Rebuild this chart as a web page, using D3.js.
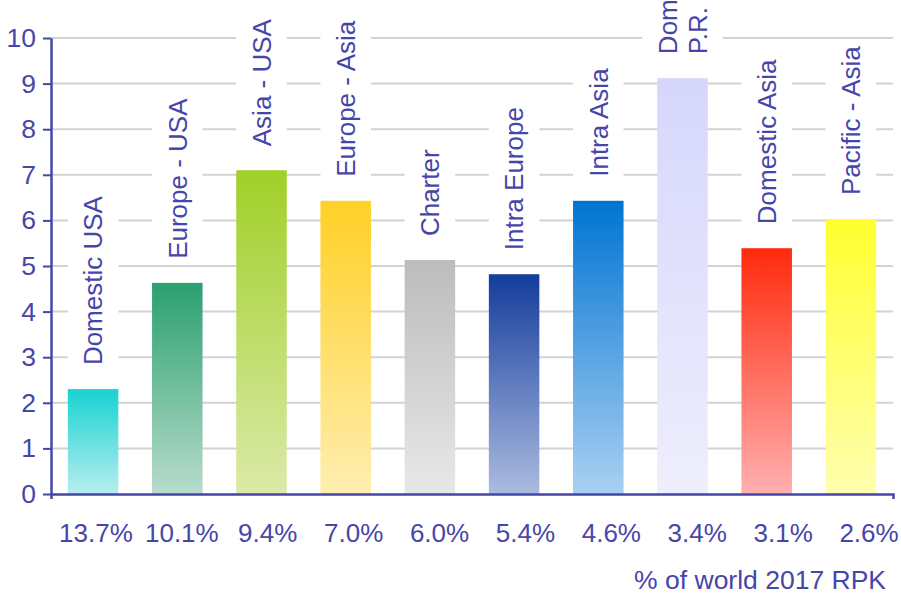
<!DOCTYPE html>
<html>
<head>
<meta charset="utf-8">
<script src="https://cdn.jsdelivr.net/npm/d3@7"></script>
<style>
  html, body { margin: 0; padding: 0; background: #fff; }
  svg { display: block; font-family: "Liberation Sans", Arial, sans-serif; }
</style>
</head>
<body>
<svg id="chart" width="901" height="595"></svg>
<script>
// Market segments (line breaks mark multi-line labels)
const categories = [
  "Domestic USA", "Europe - USA", "Asia - USA", "Europe - Asia", "Charter",
  "Intra Europe", "Intra Asia", "Domestic\nP.R. China", "Domestic Asia", "Pacific - Asia"
];
// Bar heights
const values = [2.3, 4.63, 7.1, 6.43, 5.13, 4.82, 6.43, 9.12, 5.39, 6.03];
// Share of world 2017 RPK, shown under each bar
const shares = ["13.7%", "10.1%", "9.4%", "7.0%", "6.0%", "5.4%", "4.6%", "3.4%", "3.1%", "2.6%"];
// Gradient colours per bar: top and bottom
const topColors = ["#18d2d2", "#2aa070", "#a0cf28", "#ffd026", "#bcbcbc",
                   "#143c9c", "#0074d2", "#d6d6fc", "#ff2a0c", "#ffff30"];
const bottomColors = ["#b8eeee", "#b8dccc", "#dbeaa8", "#ffeeb0", "#e8e8e8",
                      "#acbce0", "#aad0f2", "#eeeefc", "#ffb0b0", "#ffffb0"];
const yTicks = [0, 1, 2, 3, 4, 5, 6, 7, 8, 9, 10];
const axisTitle = "% of world 2017 RPK";

const ink = "#4646aa";
const svg = d3.select("#chart");

const x = d3.scaleBand().domain(categories).range([51, 893]).paddingInner(0.4).paddingOuter(0.2);
const y = d3.scaleLinear().domain([0, 10]).range([494, 38]);
const xShare = d3.scaleBand().domain(shares).range([53, 912]);

// Gradients
const defs = svg.append("defs");
categories.forEach((c, i) => {
  const g = defs.append("linearGradient").attr("id", "grad" + i)
    .attr("x1", 0).attr("y1", 0).attr("x2", 0).attr("y2", 1);
  g.append("stop").attr("offset", "0%").attr("stop-color", topColors[i]);
  g.append("stop").attr("offset", "100%").attr("stop-color", bottomColors[i]);
});

// Gridlines
svg.append("g").selectAll("line").data(yTicks.filter(d => d > 0)).join("line")
  .attr("x1", 51).attr("x2", 893)
  .attr("y1", d => y(d)).attr("y2", d => y(d))
  .attr("stroke", "#d2d2d2").attr("stroke-width", 2);

// Bars
svg.append("g").selectAll("rect").data(values).join("rect")
  .attr("x", (d, i) => x(categories[i]))
  .attr("width", x.bandwidth())
  .attr("y", d => y(d))
  .attr("height", d => y(0) - y(d))
  .attr("fill", (d, i) => `url(#grad${i})`);

// Rotated segment labels with white backing boxes
const fontSize = 26, lineGap = 30, capH = fontSize * 0.716, gap = 24;
categories.forEach((c, i) => {
  const lines = c.split("\n");
  const cx = x(c) + x.bandwidth() / 2;
  const g = svg.append("g")
    .attr("transform", `translate(${cx},${y(values[i]) - gap}) rotate(-90)`);
  const bg = g.append("rect").attr("fill", "#fff");
  const t = g.append("text")
    .attr("fill", ink).attr("font-size", fontSize).attr("text-anchor", "start");
  lines.forEach((ln, k) => {
    t.append("tspan").attr("x", 0)
      .attr("y", -(lines.length - 1) * lineGap / 2 + k * lineGap + capH / 2)
      .text(ln);
  });
  const len = t.node().getBBox().width;
  const half = ((lines.length - 1) * lineGap + capH) / 2 + 16;
  bg.attr("x", -4).attr("width", len + 8).attr("y", -half).attr("height", half * 2);
});

// Y axis
const yAxis = svg.append("g").attr("transform", "translate(51,0)")
  .call(d3.axisLeft(y).tickValues(yTicks).tickSize(8).tickSizeOuter(0).tickPadding(7));
yAxis.select(".domain").attr("stroke", ink).attr("stroke-width", 2.5);
yAxis.selectAll(".tick line").attr("stroke", ink).attr("stroke-width", 2);
yAxis.selectAll(".tick text").attr("fill", ink).attr("font-size", 26.5)
  .attr("font-family", "Liberation Sans, Arial, sans-serif");

// X axis line
const xAxis = svg.append("g").attr("transform", `translate(0,${y(0)})`)
  .call(d3.axisBottom(x).tickSize(0).tickSizeOuter(5).tickFormat(""));
xAxis.select(".domain").attr("stroke", ink).attr("stroke-width", 2.5);

// Share labels
svg.append("g").selectAll("text").data(shares).join("text")
  .attr("x", d => xShare(d) + xShare.bandwidth() / 2)
  .attr("y", 542)
  .attr("text-anchor", "middle")
  .attr("fill", ink).attr("font-size", 26)
  .text(d => d);

// Axis title
svg.append("text").attr("x", 886).attr("y", 589).attr("text-anchor", "end")
  .attr("fill", ink).attr("font-size", 26.5).text(axisTitle);
</script>
</body>
</html>
